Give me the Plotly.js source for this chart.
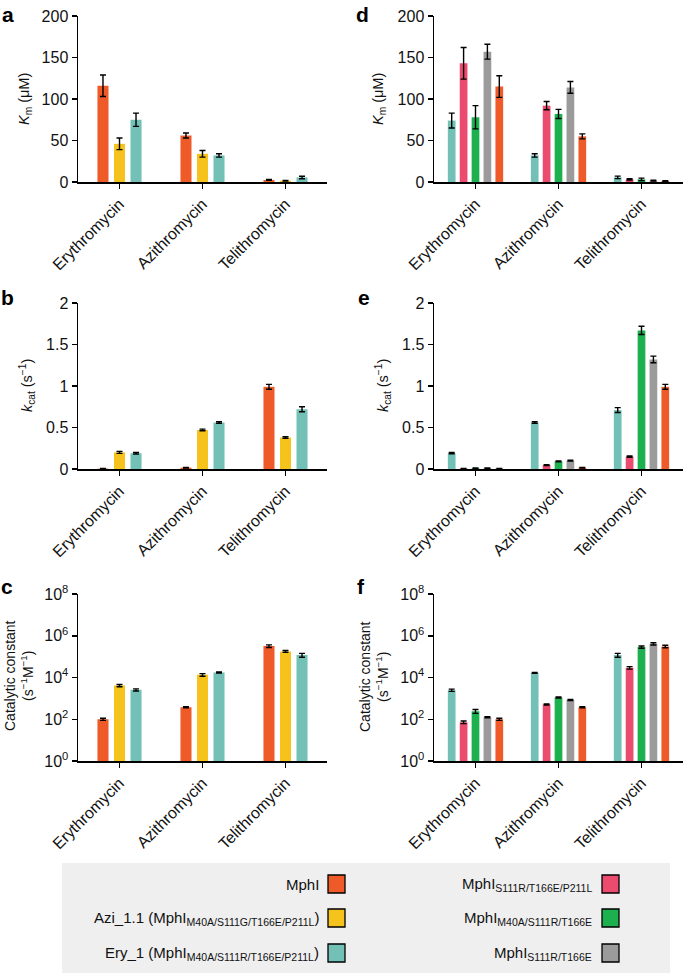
<!DOCTYPE html>
<html>
<head>
<meta charset="utf-8">
<script src="https://cdn.plot.ly/plotly-3.0.1.min.js"></script>
<style>html,body{margin:0;padding:0;background:#fff}#chart{width:685px;height:973px}</style>
</head>
<body>
<div id="chart"></div>
<script>
// ---------- DATA ----------
const categories = ['Erythromycin', 'Azithromycin', 'Telithromycin'];

// Panel a: Km (µM)
const kmA_MphI = [116, 56, 2.5];      const kmA_MphI_err = [13, 3, 0.5];
const kmA_Azi = [46, 34, 1.5];        const kmA_Azi_err = [7, 4, 0.4];
const kmA_Ery = [75, 32, 5.5];        const kmA_Ery_err = [8, 2, 1.5];

// Panel d: Km (µM)
const kmD_Ery = [74, 32, 5.6];        const kmD_Ery_err = [9, 2, 1.5];
const kmD_SRP = [143, 92, 3.2];       const kmD_SRP_err = [19, 5, 0.8];
const kmD_MSR = [78, 82, 3.2];        const kmD_MSR_err = [14, 5.5, 1.5];
const kmD_SR = [157, 114, 1.6];       const kmD_SR_err = [9, 7, 0.5];
const kmD_MphI = [115, 55, 1.2];      const kmD_MphI_err = [13, 3, 0.5];

// Panel b: kcat (s^-1)
const kcB_MphI = [0.005, 0.016, 0.99]; const kcB_MphI_err = [0.002, 0.004, 0.03];
const kcB_Azi = [0.2, 0.47, 0.38];     const kcB_Azi_err = [0.012, 0.01, 0.01];
const kcB_Ery = [0.19, 0.56, 0.72];    const kcB_Ery_err = [0.01, 0.01, 0.03];

// Panel e: kcat (s^-1)
const kcE_Ery = [0.19, 0.56, 0.71];    const kcE_Ery_err = [0.008, 0.01, 0.03];
const kcE_SRP = [0.005, 0.048, 0.15];  const kcE_SRP_err = [0.002, 0.005, 0.008];
const kcE_MSR = [0.01, 0.092, 1.67];   const kcE_MSR_err = [0.003, 0.004, 0.05];
const kcE_SR = [0.01, 0.1, 1.32];      const kcE_SR_err = [0.004, 0.005, 0.04];
const kcE_MphI = [0.005, 0.015, 0.99]; const kcE_MphI_err = [0.002, 0.004, 0.03];

// Panel c: catalytic constant (s^-1 M^-1)
const ccC_MphI = [100, 377, 319000];   const ccC_MphI_err = [12, 20, 45000];
const ccC_Azi = [4130, 13400, 177000]; const ccC_Azi_err = [500, 2000, 18000];
const ccC_Ery = [2560, 17400, 118000]; const ccC_Ery_err = [300, 900, 25000];

// Panel f: catalytic constant (s^-1 M^-1)
const ccF_Ery = [2470, 16700, 118000]; const ccF_Ery_err = [300, 900, 25000];
const ccF_SRP = [72, 506, 29100];      const ccF_SRP_err = [10, 30, 4000];
const ccF_MSR = [242, 1096, 286000];   const ccF_MSR_err = [50, 60, 35000];
const ccF_SR = [125, 847, 413000];     const ccF_SR_err = [8, 50, 50000];
const ccF_MphI = [100, 377, 308000];   const ccF_MphI_err = [12, 20, 40000];

// Legend labels
const legendLeft = ['MphI', 'Azi_1.1 (MphI<sub>M40A/S111G/T166E/P211L</sub>)', 'Ery_1 (MphI<sub>M40A/S111R/T166E/P211L</sub>)'];
const legendRight = ['MphI<sub>S111R/T166E/P211L</sub>', 'MphI<sub>M40A/S111R/T166E</sub>', 'MphI<sub>S111R/T166E</sub>'];

// ---------- STYLE ----------
const C = {
  MphI: '#EE5A28', Azi: '#F6C21C', Ery: '#73C0B7',
  SRP: '#EB4B6F', MSR: '#1DB04F', SR: '#9B9B9B'
};
const legendLeftColors = [C.MphI, C.Azi, C.Ery];
const legendRightColors = [C.SRP, C.MSR, C.SR];

const W = 685, H = 973;
const FONT = '"Liberation Sans", Arial, Helvetica, sans-serif';
const px = v => v / W;
const py = v => 1 - v / H;

function bar(y, err, color, xa, ya, i, n) {
  const slot = n === 3 ? 0.199 : 0.1434;
  const w = n === 3 ? 0.133 : 0.093;
  return {
    type: 'bar', x: categories, y: y, xaxis: xa, yaxis: ya,
    marker: { color: color, line: { width: 0 } },
    width: w, offset: (i - (n - 1) / 2) * slot - w / 2,
    error_y: { type: 'data', array: err, visible: true, color: '#000', thickness: 1.4, width: 3 },
    showlegend: false, hoverinfo: 'y'
  };
}

const data = [
  bar(kmA_MphI, kmA_MphI_err, C.MphI, 'x', 'y', 0, 3),
  bar(kmA_Azi, kmA_Azi_err, C.Azi, 'x', 'y', 1, 3),
  bar(kmA_Ery, kmA_Ery_err, C.Ery, 'x', 'y', 2, 3),

  bar(kmD_Ery, kmD_Ery_err, C.Ery, 'x2', 'y2', 0, 5),
  bar(kmD_SRP, kmD_SRP_err, C.SRP, 'x2', 'y2', 1, 5),
  bar(kmD_MSR, kmD_MSR_err, C.MSR, 'x2', 'y2', 2, 5),
  bar(kmD_SR, kmD_SR_err, C.SR, 'x2', 'y2', 3, 5),
  bar(kmD_MphI, kmD_MphI_err, C.MphI, 'x2', 'y2', 4, 5),

  bar(kcB_MphI, kcB_MphI_err, C.MphI, 'x3', 'y3', 0, 3),
  bar(kcB_Azi, kcB_Azi_err, C.Azi, 'x3', 'y3', 1, 3),
  bar(kcB_Ery, kcB_Ery_err, C.Ery, 'x3', 'y3', 2, 3),

  bar(kcE_Ery, kcE_Ery_err, C.Ery, 'x4', 'y4', 0, 5),
  bar(kcE_SRP, kcE_SRP_err, C.SRP, 'x4', 'y4', 1, 5),
  bar(kcE_MSR, kcE_MSR_err, C.MSR, 'x4', 'y4', 2, 5),
  bar(kcE_SR, kcE_SR_err, C.SR, 'x4', 'y4', 3, 5),
  bar(kcE_MphI, kcE_MphI_err, C.MphI, 'x4', 'y4', 4, 5),

  bar(ccC_MphI, ccC_MphI_err, C.MphI, 'x5', 'y5', 0, 3),
  bar(ccC_Azi, ccC_Azi_err, C.Azi, 'x5', 'y5', 1, 3),
  bar(ccC_Ery, ccC_Ery_err, C.Ery, 'x5', 'y5', 2, 3),

  bar(ccF_Ery, ccF_Ery_err, C.Ery, 'x6', 'y6', 0, 5),
  bar(ccF_SRP, ccF_SRP_err, C.SRP, 'x6', 'y6', 1, 5),
  bar(ccF_MSR, ccF_MSR_err, C.MSR, 'x6', 'y6', 2, 5),
  bar(ccF_SR, ccF_SR_err, C.SR, 'x6', 'y6', 3, 5),
  bar(ccF_MphI, ccF_MphI_err, C.MphI, 'x6', 'y6', 4, 5)
];

function xAxis(x0, x1, anchor) {
  return {
    domain: [px(x0), px(x1)], anchor: anchor, type: 'category',
    range: [-0.5, 2.5], fixedrange: true,
    showline: true, linecolor: '#000', linewidth: 1.5,
    ticks: 'outside', ticklen: 5, tickwidth: 1.5, tickcolor: '#000',
    tickangle: -45, tickfont: { family: FONT, size: 16, color: '#111' },
    showgrid: false, zeroline: false
  };
}
function yAxis(t, b, anchor, opts) {
  return Object.assign({
    domain: [py(b), py(t)], anchor: anchor,
    showline: true, linecolor: '#000', linewidth: 1.5,
    ticks: 'outside', ticklen: 5, tickwidth: 1.5, tickcolor: '#000',
    tickfont: { family: FONT, size: 16, color: '#111' },
    showgrid: false, zeroline: false, fixedrange: true
  }, opts);
}

const kmOpts = { range: [0, 200], tickvals: [0, 50, 100, 150, 200] };
const kcOpts = { range: [0, 2], tickvals: [0, 0.5, 1, 1.5, 2], ticktext: ['0', '0.5', '1', '1.5', '2'] };
const ccOpts = { type: 'log', range: [0, 8], tickvals: [1, 1e2, 1e4, 1e6, 1e8],
  ticktext: ['10<sup>0</sup>', '10<sup>2</sup>', '10<sup>4</sup>', '10<sup>6</sup>', '10<sup>8</sup>'] };

const LX0 = 78, LX1 = 327, RX0 = 434, RX1 = 683;

const annotations = [];
function ann(text, x, y, o) {
  annotations.push(Object.assign({
    text: text, x: px(x), y: py(y), xref: 'paper', yref: 'paper',
    showarrow: false, xanchor: 'center', yanchor: 'middle',
    font: { family: FONT, size: 14.5, color: '#111' }
  }, o || {}));
}
// panel letters
[['a', 8, 14], ['d', 362, 14], ['b', 7, 297], ['e', 364, 297], ['c', 7, 586], ['f', 361, 586]].forEach(p =>
  ann('<b>' + p[0] + '</b>', p[1], p[2], { font: { family: FONT, size: 21, color: '#000' } }));
// axis titles
ann('<i>K</i><sub>m</sub> (μM)', 25, 99, { textangle: -90 });
ann('<i>K</i><sub>m</sub> (μM)', 379, 99, { textangle: -90 });
ann('<i>k</i><sub>cat</sub> (s<sup>−1</sup>)', 27, 386, { textangle: -90 });
ann('<i>k</i><sub>cat</sub> (s<sup>−1</sup>)', 383, 386, { textangle: -90 });
ann('Catalytic constant<br>(s<sup>−1</sup>M<sup>−1</sup>)', 19, 676, { textangle: -90, font: { family: FONT, size: 14, color: '#111' } });
ann('Catalytic constant<br>(s<sup>−1</sup>M<sup>−1</sup>)', 374, 676, { textangle: -90, font: { family: FONT, size: 14, color: '#111' } });

// legend box
const shapes = [{
  type: 'rect', xref: 'paper', yref: 'paper',
  x0: px(62), x1: px(670), y0: py(975), y1: py(863),
  fillcolor: '#EFEFEF', line: { width: 0 }, layer: 'below'
}];
const rowsY = [884, 918, 953];
legendLeft.forEach((t, i) => {
  ann(t, 321, rowsY[i], { xanchor: 'right', font: { family: FONT, size: 15, color: '#111' } });
  shapes.push({ type: 'rect', xref: 'paper', yref: 'paper', x0: px(328), x1: px(345),
    y0: py(rowsY[i] + 9), y1: py(rowsY[i] - 9), fillcolor: legendLeftColors[i], line: { color: '#000', width: 1.3 } });
});
legendRight.forEach((t, i) => {
  ann(t, 594, rowsY[i], { xanchor: 'right', font: { family: FONT, size: 15, color: '#111' } });
  shapes.push({ type: 'rect', xref: 'paper', yref: 'paper', x0: px(602), x1: px(619),
    y0: py(rowsY[i] + 9), y1: py(rowsY[i] - 9), fillcolor: legendRightColors[i], line: { color: '#000', width: 1.3 } });
});

const layout = {
  width: W, height: H, margin: { l: 0, r: 0, t: 0, b: 0 },
  paper_bgcolor: '#fff', plot_bgcolor: 'rgba(0,0,0,0)',
  barmode: 'overlay', showlegend: false,
  font: { family: FONT, size: 14, color: '#111' },
  xaxis: xAxis(LX0, LX1, 'y'), yaxis: yAxis(16, 182, 'x', kmOpts),
  xaxis2: xAxis(RX0, RX1, 'y2'), yaxis2: yAxis(16, 182, 'x2', kmOpts),
  xaxis3: xAxis(LX0, LX1, 'y3'), yaxis3: yAxis(303, 469, 'x3', kcOpts),
  xaxis4: xAxis(RX0, RX1, 'y4'), yaxis4: yAxis(303, 469, 'x4', kcOpts),
  xaxis5: xAxis(LX0, LX1, 'y5'), yaxis5: yAxis(594, 761, 'x5', ccOpts),
  xaxis6: xAxis(RX0, RX1, 'y6'), yaxis6: yAxis(594, 761, 'x6', ccOpts),
  annotations: annotations, shapes: shapes
};

Plotly.newPlot('chart', data, layout, { staticPlot: true, displayModeBar: false });
</script>
</body>
</html>
